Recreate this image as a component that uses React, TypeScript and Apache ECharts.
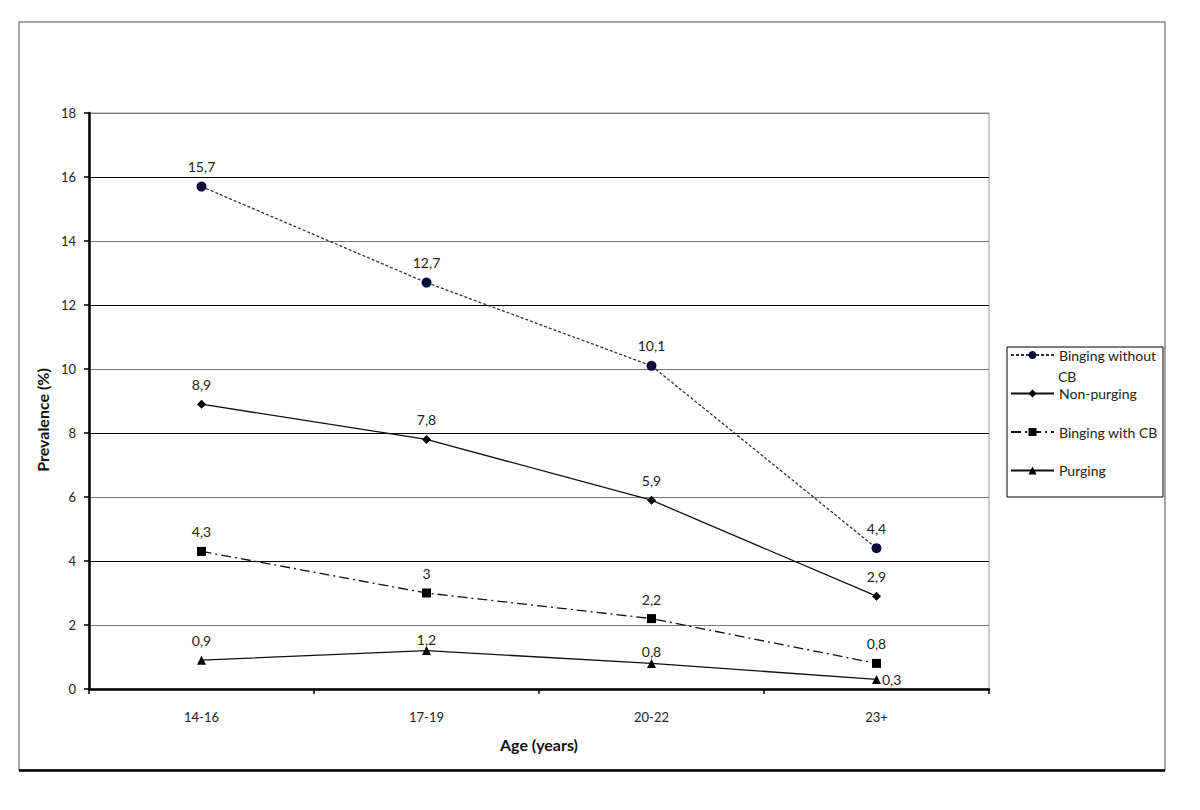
import React, { useEffect, useRef } from "react";
import * as echarts from "echarts";

const ageGroups = ["14-16", "17-19", "20-22", "23+"];
const bingingWithoutCB = [15.7, 12.7, 10.1, 4.4];
const nonPurging = [8.9, 7.8, 5.9, 2.9];
const bingingWithCB = [4.3, 3.0, 2.2, 0.8];
const purging = [0.9, 1.2, 0.8, 0.3];
const yTicks = [0, 2, 4, 6, 8, 10, 12, 14, 16, 18];

const FONT = "Lato, 'Open Sans', sans-serif";
const fmt = (p: any) => String(p.value).replace(".", ",");

export default function App() {
  const ref = useRef<HTMLDivElement>(null);
  useEffect(() => {
    if (!ref.current) return;
    const chart = echarts.init(ref.current, null, { renderer: "svg" });
    const label = {
      show: true,
      position: "top",
      distance: 8,
      formatter: fmt,
      fontSize: 14,
      fontFamily: FONT,
      color: "#222",
    };
    const option: any = {
      animation: false,
      backgroundColor: "#fff",
      grid: { left: 89, top: 113, width: 900, height: 576, show: true, borderColor: "#999", borderWidth: 1, backgroundColor: "transparent" },
      xAxis: {
        type: "category",
        data: ageGroups,
        boundaryGap: true,
        name: "Age (years)",
        nameLocation: "middle",
        nameGap: 47,
        nameTextStyle: { fontFamily: FONT, fontWeight: "bold", fontSize: 16, color: "#111" },
        axisLine: { lineStyle: { color: "#000", width: 2.5 } },
        axisTick: { show: true, inside: false, length: 5, lineStyle: { color: "#000", width: 1.5 } },
        axisLabel: { margin: 21, fontFamily: FONT, fontSize: 13, color: "#222" },
      },
      yAxis: {
        type: "value",
        min: yTicks[0],
        max: yTicks[yTicks.length - 1],
        interval: 2,
        name: "Prevalence (%)",
        nameLocation: "middle",
        nameGap: 38,
        nameRotate: 90,
        nameTextStyle: { fontFamily: FONT, fontWeight: "bold", fontSize: 16, color: "#111", padding: [0, 38, 0, 0] },
        axisLine: { show: true, lineStyle: { color: "#000", width: 2.5 } },
        axisTick: { show: true, inside: false, length: 5, lineStyle: { color: "#000", width: 1.5 } },
        axisLabel: { margin: 13, fontFamily: FONT, fontSize: 13, color: "#222" },
        splitLine: { show: true, lineStyle: { color: ["#000", "#777"], width: 1.2 } },
      },
      legend: {
        orient: "vertical",
        left: 1010,
        top: 346,
        itemWidth: 43,
        itemHeight: 10,
        itemGap: 20.5,
        borderWidth: 0,
        padding: 0,
        textStyle: { fontFamily: FONT, fontSize: 14, color: "#222", lineHeight: 18 },
        data: ["Binging without CB", "Non-purging", "Binging with CB", "Purging"],
        formatter: (n: string) => (n === "Binging without CB" ? "Binging without" : n),
      },
      graphic: [
        { type: "rect", shape: { x: 19, y: 22, width: 1146, height: 748 }, style: { fill: "none", stroke: "#888", lineWidth: 1.5 }, silent: true },
        { type: "line", shape: { x1: 19, y1: 770.5, x2: 1165, y2: 770.5 }, style: { stroke: "#000", lineWidth: 2.5 }, silent: true },
        { type: "rect", shape: { x: 1007, y: 347, width: 156, height: 150 }, style: { fill: "none", stroke: "#000", lineWidth: 1 }, silent: true },
        { type: "text", x: 1058, y: 376, style: { text: "CB", fontFamily: FONT, fontSize: 14, fill: "#222", verticalAlign: "middle" }, silent: true },
      ],
      series: [
        {
          name: "Binging without CB",
          type: "line",
          data: bingingWithoutCB,
          symbol: "circle",
          symbolSize: 10,
          itemStyle: { color: "#0b0b40" },
          lineStyle: { color: "#333", width: 1.3, type: [3, 2] },
          label,
        },
        {
          name: "Non-purging",
          type: "line",
          data: nonPurging,
          symbol: "diamond",
          symbolSize: 9,
          itemStyle: { color: "#000" },
          lineStyle: { color: "#111", width: 1.3, type: "solid" },
          label,
        },
        {
          name: "Binging with CB",
          type: "line",
          data: bingingWithCB,
          symbol: "rect",
          symbolSize: 9,
          itemStyle: { color: "#000" },
          lineStyle: { color: "#111", width: 1.3, type: [10, 4, 2, 4] },
          label,
        },
        {
          name: "Purging",
          type: "line",
          data: purging.map((v, i) => {
            if (i === 3) return { value: v, label: { position: "right", distance: 1 } };
            if (i === 1 || i === 2) return { value: v, label: { distance: 0 } };
            return v;
          }),
          symbol: "triangle",
          symbolSize: 9,
          itemStyle: { color: "#000" },
          lineStyle: { color: "#111", width: 1.3, type: "solid" },
          label,
        },
      ],
    };
    chart.setOption(option);
    return () => chart.dispose();
  }, []);
  return <div ref={ref} style={{ position: "fixed", left: 0, top: 0, width: 1200, height: 810 }} />;
}
